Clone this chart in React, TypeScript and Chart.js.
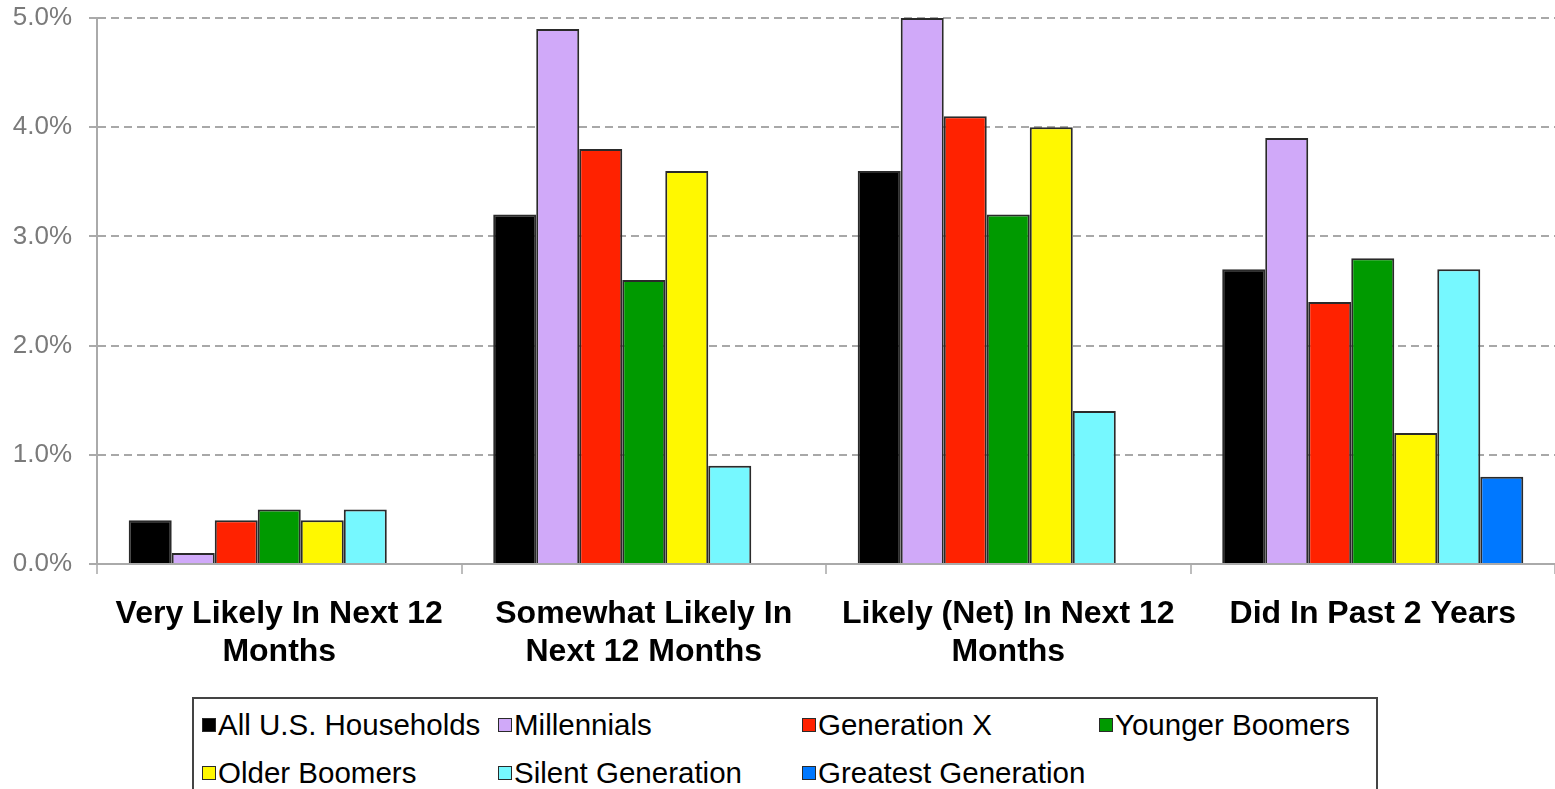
import React, { useEffect, useRef } from "react";
import { Chart, registerables } from "chart.js";

Chart.register(...registerables);

// Categories (multi-line axis labels)
const categories: string[][] = [
  ["Very Likely In Next 12", "Months"],
  ["Somewhat Likely In", "Next 12 Months"],
  ["Likely (Net) In Next 12", "Months"],
  ["Did In Past 2 Years"],
];

// Series values, in percent
const allHouseholds = [0.4, 3.2, 3.6, 2.7];
const millennials = [0.1, 4.9, 5.0, 3.9];
const generationX = [0.4, 3.8, 4.1, 2.4];
const youngerBoomers = [0.5, 2.6, 3.2, 2.8];
const olderBoomers = [0.4, 3.6, 4.0, 1.2];
const silentGeneration = [0.5, 0.9, 1.4, 2.7];
const greatestGeneration = [null, null, null, 0.8];

const seriesNames = [
  "All U.S. Households",
  "Millennials",
  "Generation X",
  "Younger Boomers",
  "Older Boomers",
  "Silent Generation",
  "Greatest Generation",
];
const seriesValues = [
  allHouseholds,
  millennials,
  generationX,
  youngerBoomers,
  olderBoomers,
  silentGeneration,
  greatestGeneration,
];
const seriesColors = [
  "#000000",
  "#D0A9F9",
  "#FF2200",
  "#009A00",
  "#FFF800",
  "#76F8FF",
  "#0078FF",
];

// Y axis ticks
const yMin = 0;
const yMax = 5;
const yStep = 1;

// Legend grid: [row, column] per series
const legendCells: [number, number][] = [
  [0, 0],
  [0, 1],
  [0, 2],
  [0, 3],
  [1, 0],
  [1, 1],
  [1, 2],
];
const legendColumnX = [10, 306, 610, 907];
const legendRowY = [28, 76];

const FONT = "'Liberation Sans', Arial, Helvetica, sans-serif";

export default function App() {
  const canvasRef = useRef<HTMLCanvasElement | null>(null);

  useEffect(() => {
    if (!canvasRef.current) return;
    const chart = new Chart(canvasRef.current, {
      type: "bar",
      data: {
        labels: categories,
        datasets: seriesNames.map((name, i) => ({
          label: name,
          data: seriesValues[i],
          backgroundColor: seriesColors[i],
          borderColor: "#2a2a2a",
          borderWidth: 2,
          barPercentage: 1,
          categoryPercentage: 0.826,
        })),
      },
      options: {
        responsive: false,
        animation: false,
        layout: { padding: { top: 18, right: 0, left: 0, bottom: 0 } },
        plugins: {
          legend: { display: false },
          tooltip: { enabled: false },
        },
        scales: {
          x: {
            afterFit: (s: any) => {
              s.height = 133;
            },
            grid: {
              display: true,
              offset: true,
              drawOnChartArea: false,
              drawTicks: true,
              tickLength: 10,
              color: "#bdbdbd",
              lineWidth: 2,
            },
            border: { display: true, color: "#aaaaaa", width: 2 },
            ticks: {
              color: "#000000",
              padding: 21,
              maxRotation: 0,
              autoSkip: false,
              font: { family: FONT, size: 32, weight: "bold", lineHeight: 1.19 },
            },
          },
          y: {
            min: yMin,
            max: yMax,
            afterFit: (s: any) => {
              s.width = 97;
              // the top label may overhang the plot; layout padding handles it
              s.paddingTop = 0;
              s.paddingBottom = 0;
            },
            grid: {
              color: "#a8a8a8",
              lineWidth: 2,
              drawTicks: true,
              tickLength: 8,
              tickColor: "#aaaaaa",
              tickBorderDash: [],
            },
            border: { display: true, color: "#aaaaaa", width: 2, dash: [8, 5] },
            ticks: {
              stepSize: yStep,
              padding: 17,
              color: "#7a7a7a",
              font: { family: FONT, size: 26 },
              callback: (v: any) => Number(v).toFixed(1) + "%",
            },
          },
        },
      },
    });
    return () => chart.destroy();
  }, []);

  return (
    <div
      style={{
        position: "fixed",
        left: 0,
        top: 0,
        width: 1555,
        height: 789,
        overflow: "hidden",
        background: "#ffffff",
      }}
    >
      <canvas ref={canvasRef} width={1555} height={697} style={{ display: "block" }} />
      <div
        style={{
          position: "absolute",
          left: 192,
          top: 697,
          width: 1186,
          height: 110,
          boxSizing: "border-box",
          border: "2px solid #444444",
          fontFamily: FONT,
          fontSize: 29.5,
          color: "#000000",
        }}
      >
        {seriesNames.map((name, i) => {
          const [row, col] = legendCells[i];
          return (
            <div
              key={name}
              style={{
                position: "absolute",
                left: legendColumnX[col] - 2,
                top: legendRowY[row] - 2,
                height: 0,
                display: "flex",
                alignItems: "center",
                whiteSpace: "nowrap",
              }}
            >
              <span
                style={{
                  display: "inline-block",
                  width: 14,
                  height: 14,
                  boxSizing: "border-box",
                  border: "1.5px solid #2a2a2a",
                  background: seriesColors[i],
                  marginRight: 2,
                }}
              />
              <span style={{ lineHeight: "32px" }}>{name}</span>
            </div>
          );
        })}
      </div>
    </div>
  );
}
